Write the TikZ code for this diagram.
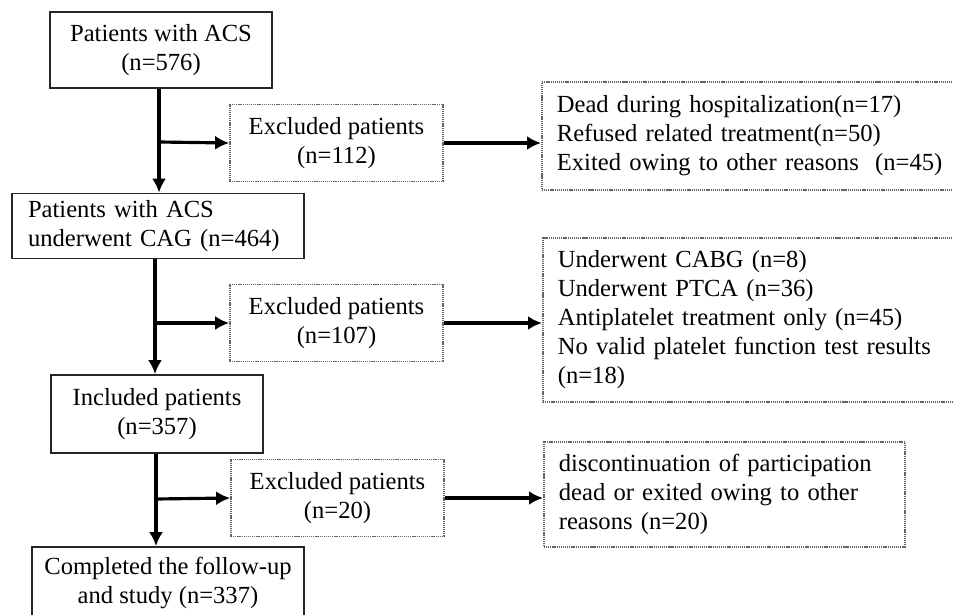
\documentclass[tikz,border=0pt]{standalone}
\usepackage{fontspec}
\setmainfont{Liberation Serif}
\usetikzlibrary{arrows.meta}

\begin{document}
\begin{tikzpicture}[x=0.02cm,y=-0.02cm,>={Latex[length=2.8mm,width=2.8mm]},
  font=\fontsize{14pt}{16.5pt}\selectfont,
  main box/.style={draw=black!85,line width=1pt,inner sep=0pt,align=center},
  excl box/.style={draw=black!60,dash pattern=on 0.7pt off 0.5pt,line width=1pt,inner sep=0pt,align=center,minimum width=4.26cm,minimum height=1.54cm},
  reason box/.style={draw=black!60,dash pattern=on 0.7pt off 0.5pt,line width=1pt,anchor=west,inner xsep=0.3cm,inner ysep=0pt,align=left},
  flow/.style={->,line width=1.8pt}]

\useasboundingbox (0,0) rectangle (953,615);

% main column
\node[main box,minimum width=4.44cm,minimum height=1.52cm] (acs) at (161,50) {Patients with ACS\\(n=576)};
\node[main box,minimum width=5.84cm,minimum height=1.3cm,text width=5.2cm,align=left] (cag) at (158,226) {Patients with ACS\\underwent CAG (n=464)};
\node[main box,minimum width=4.24cm,minimum height=1.56cm] (incl) at (157,414) {Included patients\\(n=357)};
\node[main box,minimum width=5.44cm,minimum height=1.44cm] (done) at (168,583) {Completed the follow-up\\and study (n=337)};

% excluded
\node[excl box] (excl1) at (336.5,143) {Excluded patients\\(n=112)};
\node[excl box] (excl2) at (336.5,323) {Excluded patients\\(n=107)};
\node[excl box] (excl3) at (337.5,498) {Excluded patients\\(n=20)};

% reasons
\node[reason box,text width=7.74cm,minimum height=2.16cm] (why1) at (541,136) {Dead during hospitalization(n=17)\\Refused related treatment(n=50)\\Exited owing to other reasons \ (n=45)};
\node[reason box,text width=7.74cm,minimum height=3.28cm] (why2) at (542,320) {Underwent CABG (n=8)\\Underwent PTCA (n=36)\\Antiplatelet treatment only (n=45)\\No valid platelet function test results\\(n=18)};
\node[reason box,text width=6.62cm,minimum height=2.1cm] (why3) at (543,494.5) {discontinuation of participation\\dead or exited owing to other\\reasons (n=20)};

% arrows
\coordinate (j1) at (159,142);
\coordinate (j2) at (155,323);
\coordinate (j3) at (156,499);

\draw[flow] (acs.south -| j1) -- (cag.north -| j1);
\draw[flow] (j1) -- (excl1.west);
\draw[flow] (excl1.east) -- (excl1.east -| why1.west);

\draw[flow] (cag.south -| j2) -- (incl.north -| j2);
\draw[flow] (j2) -- (excl2.west);
\draw[flow] (excl2.east) -- (excl2.east -| why2.west);

\draw[flow] (incl.south -| j3) -- (done.north -| j3);
\draw[flow] (j3) -- (excl3.west);
\draw[flow] (excl3.east) -- (excl3.east -| why3.west);

\end{tikzpicture}
\end{document}
